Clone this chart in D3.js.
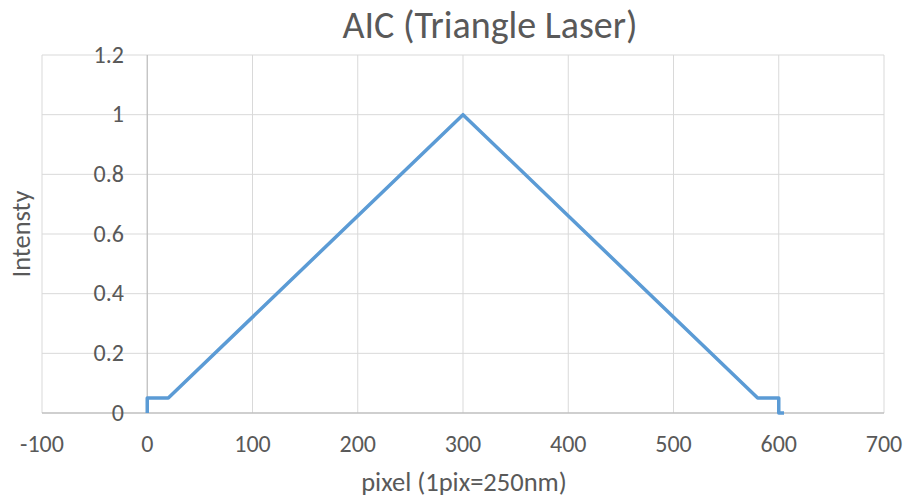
<!DOCTYPE html>
<html>
<head>
<meta charset="utf-8">
<script src="https://cdn.jsdelivr.net/npm/d3@7"></script>
<style>
  html, body { margin: 0; padding: 0; background: #fff; }
  svg { display: block; font-family: Carlito, "Open Sans", "Liberation Sans", sans-serif; }
</style>
</head>
<body>
<svg id="chart" width="907" height="498"></svg>
<script>
// Triangle laser intensity profile
const pixelX = [0, 0, 20, 300, 580, 600, 600, 605];
const intensity = [0, 0.05, 0.05, 1, 0.05, 0.05, 0, 0];
const xTicks = [-100, 0, 100, 200, 300, 400, 500, 600, 700];
const yTicks = [0, 0.2, 0.4, 0.6, 0.8, 1, 1.2];

(function draw() {
  const svg = d3.select("#chart");
  const m = { left: 42, right: 884, top: 55, bottom: 413 };

  const x = d3.scaleLinear().domain([-100, 700]).range([m.left, m.right]);
  const y = d3.scaleLinear().domain([0, 1.2]).range([m.bottom, m.top]);

  const grid = "#d9d9d9", axisCol = "#bfbfbf", textCol = "#595959";

  // gridlines
  svg.append("g").selectAll("line").data(yTicks.filter(d => d !== 0)).join("line")
    .attr("x1", m.left).attr("x2", m.right)
    .attr("y1", d => y(d)).attr("y2", d => y(d))
    .attr("stroke", grid).attr("stroke-width", 1);
  svg.append("g").selectAll("line").data(xTicks.filter(d => d !== 0)).join("line")
    .attr("x1", d => x(d)).attr("x2", d => x(d))
    .attr("y1", m.top).attr("y2", m.bottom)
    .attr("stroke", grid).attr("stroke-width", 1);

  // axes crossing at origin
  svg.append("line").attr("x1", m.left).attr("x2", m.right)
    .attr("y1", y(0)).attr("y2", y(0)).attr("stroke", axisCol).attr("stroke-width", 1.3);
  svg.append("line").attr("x1", x(0)).attr("x2", x(0))
    .attr("y1", m.top).attr("y2", m.bottom).attr("stroke", axisCol).attr("stroke-width", 1.3);

  // tick labels
  svg.append("g").selectAll("text").data(yTicks).join("text")
    .attr("x", 124).attr("y", d => y(d) + 7.5)
    .attr("text-anchor", "end").attr("fill", textCol).attr("font-size", 24)
    .text(d => d3.format("~g")(d));
  svg.append("g").selectAll("text").data(xTicks).join("text")
    .attr("x", d => x(d)).attr("y", 452)
    .attr("text-anchor", "middle").attr("fill", textCol).attr("font-size", 24)
    .text(d => d);

  // series line
  const line = d3.line().x((d, i) => x(pixelX[i])).y(d => y(d));
  svg.append("path").datum(intensity)
    .attr("d", line).attr("fill", "none")
    .attr("stroke", "#5b9bd5").attr("stroke-width", 3.5)
    .attr("stroke-linejoin", "round");

  // titles
  svg.append("text").attr("x", 490).attr("y", 38)
    .attr("text-anchor", "middle").attr("fill", textCol).attr("font-size", 38)
    .text("AIC (Triangle Laser)");
  svg.append("text").attr("x", 464).attr("y", 491)
    .attr("text-anchor", "middle").attr("fill", textCol).attr("font-size", 26.5)
    .text("pixel (1pix=250nm)");
  svg.append("text").attr("transform", "translate(30,234) rotate(-90)")
    .attr("text-anchor", "middle").attr("fill", textCol).attr("font-size", 26.5)
    .text("Intensty");
})();
</script>
</body>
</html>
